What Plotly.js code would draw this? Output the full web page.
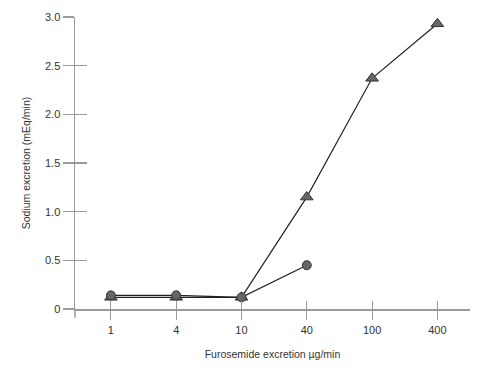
<!DOCTYPE html>
<html><head><meta charset="utf-8">
<script src="https://cdn.plot.ly/plotly-3.0.1.min.js"></script>
<style>html,body{margin:0;padding:0;background:#fff}#c{width:480px;height:375px}</style>
</head><body><div id="c"></div>
<script>
var categories = ["1", "4", "10", "40", "100", "400"];
var triangleValues = [0.12, 0.12, 0.12, 1.15, 2.37, 2.93];
var circleCategories = ["1", "4", "10", "40"];
var circleValues = [0.14, 0.14, 0.12, 0.45];
var yTickVals = [0, 0.5, 1.0, 1.5, 2.0, 2.5, 3.0];
var yTickText = ["0", "0.5", "1.0", "1.5", "2.0", "2.5", "3.0"];
var xTickIndex = [0, 1, 2, 3, 4, 5];

var axisGray = "#9a9a9a";
var tickFont = {family: "Liberation Sans, Arial, sans-serif", size: 11, color: "#333"};
var titleFont = {family: "Liberation Sans, Arial, sans-serif", size: 10.5, color: "#333"};

var traces = [
  {x: categories, y: triangleValues, type: "scatter", mode: "lines+markers",
   line: {color: "#222", width: 1.2},
   marker: {symbol: "triangle-up", size: 11, color: "#666", line: {color: "#333", width: 1}},
   cliponaxis: false, hoverinfo: "none"},
  {x: circleCategories, y: circleValues, type: "scatter", mode: "lines+markers",
   line: {color: "#222", width: 1.2},
   marker: {symbol: "circle", size: 9, color: "#666", line: {color: "#333", width: 1}},
   cliponaxis: false, hoverinfo: "none"},
  {x: [null], y: [null], xaxis: "x2", yaxis: "y2", type: "scatter", mode: "markers",
   hoverinfo: "none", showlegend: false}
];

var layout = {
  width: 480, height: 375,
  margin: {l: 75, r: 10, t: 17, b: 66},
  paper_bgcolor: "#fff", plot_bgcolor: "#fff",
  showlegend: false,
  font: tickFont,
  xaxis: {type: "category", range: [-0.55, 5.5], showgrid: false, zeroline: false,
          showline: true, linecolor: axisGray, linewidth: 1.5,
          ticks: "outside", ticklen: 9, tickcolor: axisGray, tickwidth: 1,
          tickfont: tickFont, ticklabelstandoff: 1,
          title: {text: "Furosemide excretion \u00b5g/min", font: titleFont, standoff: 16}},
  xaxis2: {type: "linear", range: [-0.55, 5.5], overlaying: "x", anchor: "y2",
           showgrid: false, zeroline: false, showline: false, showticklabels: false,
           tickvals: xTickIndex,
           ticks: "inside", ticklen: 8, tickcolor: axisGray, tickwidth: 1},
  yaxis: {range: [0, 3.0], showgrid: false, zeroline: false,
          showline: true, linecolor: axisGray, linewidth: 1.5,
          tickvals: yTickVals, ticktext: yTickText,
          ticks: "outside", ticklen: 11, tickcolor: axisGray, tickwidth: 1.3,
          tickfont: tickFont,
          title: {text: "Sodium excretion (mEq/min)", font: titleFont, standoff: 12}},
  yaxis2: {range: [0, 3.0], overlaying: "y", anchor: "x2", showgrid: false, zeroline: false,
           showline: false, showticklabels: false, tickvals: yTickVals,
           ticks: "inside", ticklen: 12, tickcolor: axisGray, tickwidth: 1.3},
  shapes: [
    {type: "line", xref: "paper", yref: "paper", x0: 0, x1: 0, y0: 0, y1: -0.03,
     line: {color: axisGray, width: 1.5}},
    {type: "line", xref: "paper", yref: "paper", x0: -0.02, x1: 0, y0: 0, y1: 0,
     line: {color: axisGray, width: 1.5}}
  ]
};

Plotly.newPlot("c", traces, layout, {staticPlot: true});
</script></body></html>
